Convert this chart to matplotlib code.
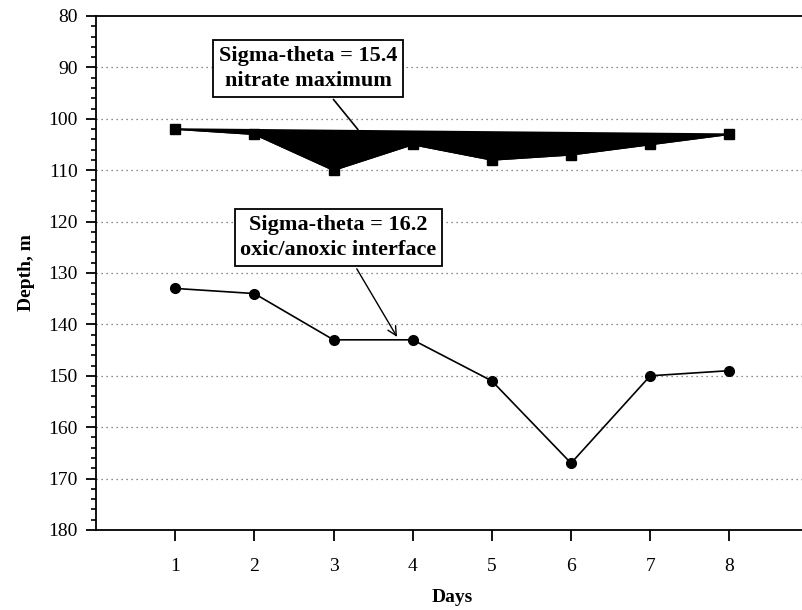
import matplotlib.pyplot as plt
from matplotlib.ticker import MultipleLocator

plt.rcParams['font.family'] = ['Liberation Serif', 'DejaVu Serif']

# data
days = [1, 2, 3, 4, 5, 6, 7, 8]
depth_nitrate = [102, 103, 110, 105, 108, 107, 105, 103]   # sigma-theta 15.4
depth_interface = [133, 134, 143, 143, 151, 167, 150, 149]  # sigma-theta 16.2
x_ticks = [1, 2, 3, 4, 5, 6, 7, 8]
y_ticks = [80, 90, 100, 110, 120, 130, 140, 150, 160, 170, 180]

fig = plt.figure(figsize=(8.03, 6.10), dpi=100)
ax = fig.add_axes([96 / 803, 1 - 530 / 610, (808.6 - 96) / 803, (530 - 16) / 610])

# nitrate maximum: closed black polygon + markers
ax.fill(days, depth_nitrate, color='black', lw=1.2)
ax.plot(days, depth_nitrate, color='black', lw=1.2, marker='s', ms=7.5)

# oxic/anoxic interface
ax.plot(days, depth_interface, color='black', lw=1.2, marker='o', ms=7)

ax.set_xlim(0, 9)
ax.set_ylim(180, 80)
ax.set_xticks(x_ticks)
ax.set_yticks(y_ticks)
ax.yaxis.set_minor_locator(MultipleLocator(2))
ax.tick_params(axis='both', labelsize=14, direction='out', width=1.3)
ax.tick_params(axis='x', length=8, pad=12)
ax.tick_params(axis='y', which='major', length=7, pad=6)
ax.tick_params(axis='y', which='minor', length=3.5, width=1.2)

for y in y_ticks[1:-1]:
    ax.axhline(y, color='#666666', lw=0.9, ls=(0, (1, 3)), zorder=0)

for side in ['left', 'bottom', 'top', 'right']:
    ax.spines[side].set_linewidth(1.3)

ax.set_xlabel('Days', fontsize=14, fontweight='bold', labelpad=10)
ax.set_ylabel('Depth, m', fontsize=14, fontweight='bold', labelpad=10)

box = dict(boxstyle='square,pad=0.25', fc='white', ec='black', lw=1.3)
ax.annotate('Sigma-theta = 15.4\nnitrate maximum', xy=(3.33, 102.5),
            xytext=(2.68, 90.2), ha='center', va='center',
            fontsize=16, fontweight='bold', bbox=box, linespacing=1.35,
            arrowprops=dict(arrowstyle='-', color='black', lw=1.2))
ax.annotate('Sigma-theta = 16.2\noxic/anoxic interface', xy=(3.82, 142.9),
            xytext=(3.06, 123.1), ha='center', va='center',
            fontsize=16, fontweight='bold', bbox=box, linespacing=1.35,
            arrowprops=dict(arrowstyle='->', color='black', lw=1.0))

fig.savefig('out.png', dpi=100)
